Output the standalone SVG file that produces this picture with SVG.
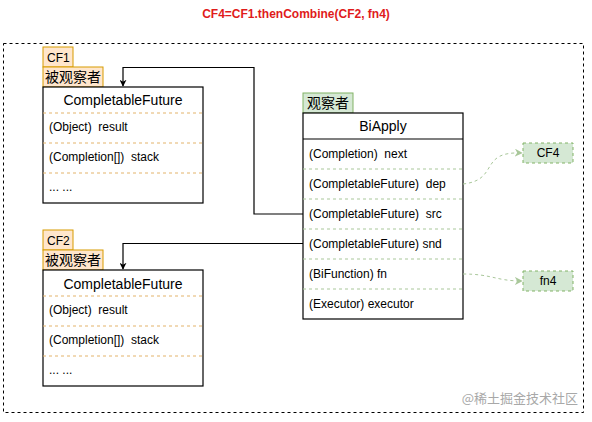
<svg xmlns="http://www.w3.org/2000/svg" width="592" height="422" viewBox="0 0 592 422">
<defs>
<style>
text{font-family:"Liberation Sans",Arial,"Noto Sans CJK SC",sans-serif;fill:#000;white-space:pre}
.t{font-size:12px}
.h{font-size:14px;text-anchor:middle}
.cjk{font-size:14px;font-family:"Noto Sans CJK SC","Liberation Sans",sans-serif}
.box{fill:#fff;stroke:#000;stroke-width:1.2}
.or{fill:#ffe6cc;stroke:#d79b00;stroke-width:1}
.gr{fill:#d5e8d4;stroke:#82b366;stroke-width:1}
.osep{stroke:#e3b36a;stroke-width:1;stroke-dasharray:3 3;fill:none}
.gsep{stroke:#a9c79a;stroke-width:1;stroke-dasharray:3 3;fill:none}
.wire{fill:none;stroke:#000;stroke-width:1.2}
.gwire{fill:none;stroke:#a9c79a;stroke-width:1;stroke-dasharray:3 3}
</style>
<marker id="ab" viewBox="0 0 10 10" refX="9" refY="5" markerWidth="7" markerHeight="7" orient="auto" markerUnits="userSpaceOnUse"><path d="M0,0 L10,5 L0,10 L3,5 Z" fill="#000"/></marker>
<marker id="ag" viewBox="0 0 10 10" refX="9" refY="5" markerWidth="8" markerHeight="8" orient="auto" markerUnits="userSpaceOnUse"><path d="M0,0 L10,5 L0,10 L3,5 Z" fill="#a9c79a"/></marker>
</defs>
<rect width="592" height="422" fill="#fff"/>
<text x="296" y="18" style="font-size:12px;font-weight:bold;fill:#e01b1b" text-anchor="middle">CF4=CF1.thenCombine(CF2, fn4)</text>
<rect x="3.5" y="43.5" width="580" height="369" fill="none" stroke="#000" stroke-width="1" stroke-dasharray="3 3"/>

<g id="cf1">
<rect class="or" x="43" y="47" width="30" height="20"/>
<text class="t" x="47" y="62">CF1</text>
<rect class="or" x="43" y="67" width="60" height="20"/>
<text class="cjk" x="45" y="82">被观察者</text>
<rect class="box" x="43" y="87" width="160" height="116"/>
<line x1="43" y1="113" x2="203" y2="113" class="osep"/>
<line x1="43" y1="143" x2="203" y2="143" class="osep"/>
<line x1="43" y1="173" x2="203" y2="173" class="osep"/>
<text class="h" x="123" y="105">CompletableFuture</text>
<text class="t" x="49" y="131">(Object)  result</text>
<text class="t" x="49" y="161">(Completion[])  stack</text>
<text class="t" x="49" y="191">... ...</text>
</g>

<g id="cf2">
<rect class="or" x="43" y="230" width="30" height="20"/>
<text class="t" x="47" y="245">CF2</text>
<rect class="or" x="43" y="250" width="60" height="20"/>
<text class="cjk" x="45" y="265">被观察者</text>
<rect class="box" x="43" y="270" width="160" height="116"/>
<line x1="43" y1="296" x2="203" y2="296" class="osep"/>
<line x1="43" y1="326" x2="203" y2="326" class="osep"/>
<line x1="43" y1="356" x2="203" y2="356" class="osep"/>
<text class="h" x="123" y="289">CompletableFuture</text>
<text class="t" x="49" y="314">(Object)  result</text>
<text class="t" x="49" y="344">(Completion[])  stack</text>
<text class="t" x="49" y="374">... ...</text>
</g>

<g id="biapply">
<rect class="gr" x="303" y="93" width="50" height="20"/>
<text class="cjk" x="307" y="108">观察者</text>
<rect class="box" x="303" y="113" width="160" height="206"/>
<line x1="303" y1="139" x2="463" y2="139" stroke="#000" stroke-width="1.2"/>
<line x1="303" y1="169" x2="463" y2="169" class="gsep"/>
<line x1="303" y1="199" x2="463" y2="199" class="gsep"/>
<line x1="303" y1="229" x2="463" y2="229" class="gsep"/>
<line x1="303" y1="259" x2="463" y2="259" class="gsep"/>
<line x1="303" y1="289" x2="463" y2="289" class="gsep"/>
<text class="h" x="383" y="131">BiApply</text>
<text class="t" x="309" y="158">(Completion)  next</text>
<text class="t" x="309" y="188">(CompletableFuture)  dep</text>
<text class="t" x="309" y="218">(CompletableFuture)  src</text>
<text class="t" x="309" y="248">(CompletableFuture) snd</text>
<text class="t" x="309" y="278">(BiFunction) fn</text>
<text class="t" x="309" y="308">(Executor) executor</text>
</g>

<g id="cf4">
<rect class="gr" x="523" y="143" width="50" height="20" stroke-dasharray="3 3"/>
<text class="t" x="548" y="157" text-anchor="middle">CF4</text>
</g>
<g id="fn4">
<rect class="gr" x="523" y="271" width="50" height="20" stroke-dasharray="3 3"/>
<text class="t" x="548" y="285" text-anchor="middle">fn4</text>
</g>

<g id="connectors">
<path class="wire" d="M303,214 H254 V67.5 H123 V86" marker-end="url(#ab)"/>
<path class="wire" d="M303,243.5 H123 V269" marker-end="url(#ab)"/>
<path class="gwire" d="M463,184 C500,180 478,151 522,153" marker-end="url(#ag)"/>
<path class="gwire" d="M463,274 C492,274 496,281 522,281" marker-end="url(#ag)"/>
</g>

<text x="578" y="403" text-anchor="end" style="font-size:13px;fill:#a8a8a8;font-family:'Noto Sans CJK SC','Liberation Sans',sans-serif">@稀土掘金技术社区</text>
</svg>
